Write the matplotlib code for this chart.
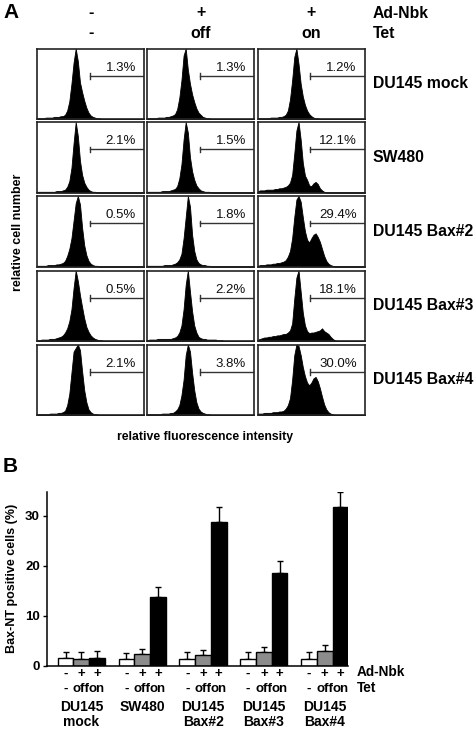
import numpy as np
import matplotlib
matplotlib.use("Agg")
import matplotlib.pyplot as plt

plt.rcParams['font.family'] = ['Liberation Sans', 'DejaVu Sans']

# ---------------- Panel A data ----------------
ROW_LABELS = ["DU145 mock", "SW480", "DU145 Bax#2", "DU145 Bax#3", "DU145 Bax#4"]
COL_ADNBK = ["-", "+", "+"]
COL_TET = ["-", "off", "on"]
PERCENTS = [
    ["1.3%", "1.3%", "1.2%"],
    ["2.1%", "1.5%", "12.1%"],
    ["0.5%", "1.8%", "29.4%"],
    ["0.5%", "2.2%", "18.1%"],
    ["2.1%", "3.8%", "30.0%"],
]
# histogram heights (percent of panel height) on 51 equally spaced fluorescence bins
HIST_X = np.linspace(0, 1, 51)
H_R1C1 = [1,1,1,1,2,2,2,2,3,3,3,4,4,6, 12,25,50,80,100,82,52,38,26,16,9,5,3,2,1,1] + [0]*21
H_R1C2 = [1,1,1,1,1,2,2,2,2,3,3,4,5,7, 14,30,55,90,100,70,50,35,24,15,9,6,3,2,1,1] + [0]*21
H_R1C3 = [1,1,1,1,1,1,2,2,2,2,3,3,4,6, 12,28,55,88,100,78,50,32,20,12,7,4,2,1,1,0] + [0]*21
H_R2C1 = [1,1,1,1,1,1,1,1,1,2,2,2,3,4, 8,16,35,70,100,80,45,25,14,8,4,2,1,1,0,0] + [0]*21
H_R2C2 = [1,1,1,1,1,1,1,2,2,2,2,3,4,5, 9,20,40,75,100,85,50,30,18,10,6,3,2,1,1,1] + [0]*21
H_R2C3 = [2,3,3,3,4,4,4,4,5,5,6,6,7,8, 10,14,25,55,88,100,75,42,24,18,10,9,13,15,12,6,3,1] + [0]*19
H_R3C1 = [1,1,1,1,1,2,2,2,2,3,3,4,5,8, 15,25,40,65,90,100,88,55,30,16,8,4,2,1,1,0] + [0]*21
H_R3C2 = [1,1,1,1,1,1,1,1,2,2,2,2,3,4, 6,10,18,40,70,100,85,45,22,10,5,3,2,2,1,1] + [0]*21
H_R3C3 = [1,2,2,2,3,3,3,4,4,5,5,6,7,9, 14,22,40,70,95,100,92,70,50,38,34,40,45,47,42,35,25,15,8,4,2,1] + [0]*15
H_R4C1 = [1,1,2,2,2,2,3,3,3,4,5,6,8,12, 18,28,45,75,100,85,65,48,32,20,13,8,5,3,2,1,1] + [0]*20
H_R4C2 = [1,2,2,2,2,3,3,3,3,3,3,3,4,5, 7,12,22,45,80,100,70,42,22,12,6,4,3,3,2,2,2,2,2,1,1,1] + [0]*15
H_R4C3 = [2,3,4,5,5,6,6,7,7,8,8,9,10,10, 12,15,25,60,90,100,70,40,22,14,11,12,12,13,14,15,18,14,12,10,6,3,1] + [0]*14
H_R5C1 = [1,1,1,1,1,1,2,2,2,2,3,3,4,6, 14,30,60,90,95,100,92,62,35,18,8,4,2,1,1,0] + [0]*21
H_R5C2 = [1,1,1,1,1,1,1,2,2,2,2,3,3,5, 8,14,28,50,85,100,90,60,35,18,9,5,3,2,1,1] + [0]*21
H_R5C3 = [2,2,2,3,3,3,3,4,4,4,5,5,6,9, 14,24,50,85,100,98,85,68,55,46,42,46,52,54,48,38,26,15,8,4,2,1] + [0]*15
HISTS = [
    [H_R1C1, H_R1C2, H_R1C3],
    [H_R2C1, H_R2C2, H_R2C3],
    [H_R3C1, H_R3C2, H_R3C3],
    [H_R4C1, H_R4C2, H_R4C3],
    [H_R5C1, H_R5C2, H_R5C3],
]

# ---------------- Panel B data ----------------
GROUP_LINE1 = ["DU145", "SW480", "DU145", "DU145", "DU145"]
GROUP_LINE2 = ["mock", "", "Bax#2", "Bax#3", "Bax#4"]
VAL_NONE = [1.6, 1.35, 1.35, 1.4, 1.4]
VAL_OFF = [1.35, 2.4, 2.1, 2.8, 2.9]
VAL_ON = [1.5, 13.8, 28.7, 18.5, 31.7]
ERR_NONE = [1.1, 1.15, 1.35, 1.4, 1.4]
ERR_OFF = [1.35, 0.9, 1.1, 1.0, 1.2]
ERR_ON = [1.4, 2.0, 3.1, 2.4, 3.1]
YTICKS = [0, 10, 20, 30]

W, H = 477, 730
fig = plt.figure(figsize=(W / 100, H / 100), dpi=100)


def rect(left, top, w, h):
    return [left / W, 1 - (top + h) / H, w / W, h / H]


def px(x, y):
    return x / W, 1 - y / H


# ---------------- Panel A ----------------
col_left = [37.3, 147.3, 258.0]
col_w = 106.7
row_top = [48.5, 122.0, 196.0, 270.5, 344.5]
row_h = 70.5
gate_x = 0.49
gate_y = 61

for r in range(5):
    for c in range(3):
        ax = fig.add_axes(rect(col_left[c], row_top[r], col_w, row_h))
        ax.fill_between(HIST_X, HISTS[r][c], color='black', linewidth=0.6,
                        edgecolor='black')
        ax.set_xlim(0, 1)
        ax.set_ylim(0, 100)
        ax.set_xticks([])
        ax.set_yticks([])
        for s in ax.spines.values():
            s.set_linewidth(1.2)
            s.set_color('#222222')
        ax.plot([gate_x, 1.0], [gate_y, gate_y], color='#333333', lw=1.0)
        ax.plot([gate_x, gate_x], [gate_y - 4, gate_y + 4], color='#333333', lw=1.0)
        ax.text(0.925, gate_y + 3.5, PERCENTS[r][c], ha='right', va='bottom',
                fontsize=9.5, color='#111111')
    fig.text(*px(372.7, row_top[r] + row_h / 2), ROW_LABELS[r], ha='left',
             va='center', fontsize=11.3, fontweight='bold')

col_centers = [l + col_w / 2 for l in col_left]
for c in range(3):
    fig.text(*px(col_centers[c], 13), COL_ADNBK[c], ha='center', va='center',
             fontsize=11.5, fontweight='bold')
    fig.text(*px(col_centers[c], 33), COL_TET[c], ha='center', va='center',
             fontsize=11.5, fontweight='bold')
fig.text(*px(372.7, 13), "Ad-Nbk", ha='left', va='center', fontsize=11.3, fontweight='bold')
fig.text(*px(372.7, 33), "Tet", ha='left', va='center', fontsize=11.3, fontweight='bold')
fig.text(*px(3, 13), "A", ha='left', va='center', fontsize=15, fontweight='bold')
fig.text(*px(18, 232), "relative cell number", rotation=90, ha='center',
         va='center', fontsize=9, fontweight='bold')
fig.text(*px(205, 437), "relative fluorescence intensity", ha='center',
         va='center', fontsize=8.8, fontweight='bold')

# ---------------- Panel B ----------------
fig.text(*px(3, 467), "B", ha='left', va='center', fontsize=15, fontweight='bold')
axb = fig.add_axes(rect(46.7, 491.7, 301.6, 174.0))
n = len(GROUP_LINE1)
xg = np.arange(n)
bw = 0.258
series = [(VAL_NONE, ERR_NONE, 'white'), (VAL_OFF, ERR_OFF, '#8c8c8c'), (VAL_ON, ERR_ON, 'black')]
for k, (vals, errs, col) in enumerate(series):
    xs = xg + (k - 1) * bw
    axb.bar(xs, vals, width=bw, color=col, edgecolor='black', linewidth=1.0, zorder=2)
    axb.errorbar(xs, vals, yerr=[np.zeros(n), errs], fmt='none', ecolor='black',
                 elinewidth=1.0, capsize=2.5, capthick=1.0, zorder=1)
axb.set_xlim(-0.569, 4.388)
axb.set_ylim(0, 34.8)
axb.spines['top'].set_visible(False)
axb.spines['right'].set_visible(False)
axb.spines['left'].set_linewidth(1.1)
axb.spines['bottom'].set_linewidth(1.1)
axb.set_xticks([])
axb.set_yticks(YTICKS)
axb.set_yticklabels([str(t) for t in YTICKS], fontsize=9.5, fontweight='bold')
axb.tick_params(axis='y', length=3, width=1.0, pad=2)
axb.set_ylabel("Bax-NT positive cells (%)", fontsize=9, fontweight='bold', labelpad=5)

tr = axb.get_xaxis_transform()
for g in range(n):
    for k in range(3):
        xx = g + (k - 1) * bw
        axb.text(xx, -0.045, COL_ADNBK[k], transform=tr, ha='center', va='center',
                 fontsize=9.5, fontweight='bold', clip_on=False)
        axb.text(xx, -0.135, COL_TET[k], transform=tr, ha='center', va='center',
                 fontsize=9.5, fontweight='bold', clip_on=False)
    axb.text(g, -0.236, GROUP_LINE1[g], transform=tr, ha='center', va='center',
             fontsize=10, fontweight='bold', clip_on=False)
    if GROUP_LINE2[g]:
        axb.text(g, -0.322, GROUP_LINE2[g], transform=tr, ha='center', va='center',
                 fontsize=10, fontweight='bold', clip_on=False)
fig.text(*px(356.7, 672), "Ad-Nbk", ha='left', va='center', fontsize=9.8, fontweight='bold')
fig.text(*px(356.7, 688.5), "Tet", ha='left', va='center', fontsize=9.8, fontweight='bold')

fig.savefig("out.png", dpi=100)
